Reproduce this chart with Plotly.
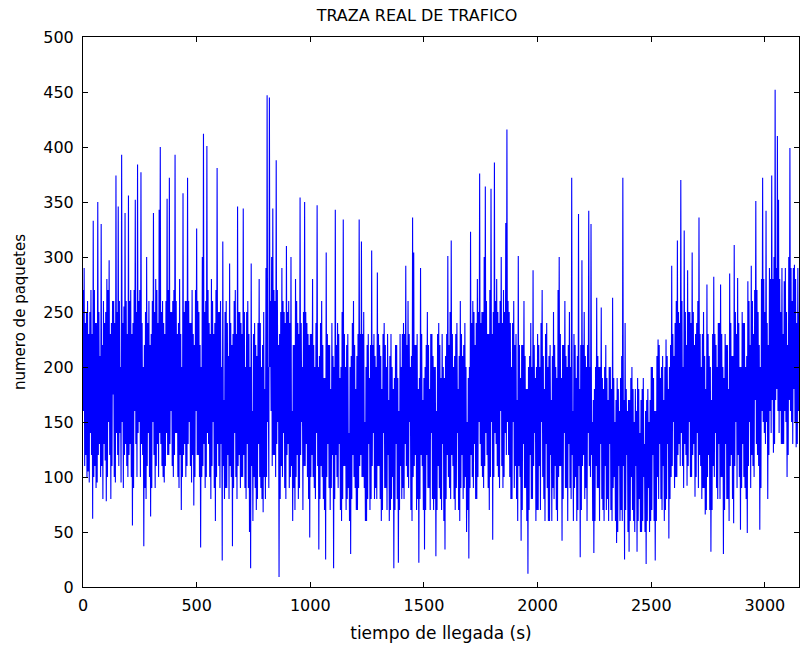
import plotly.graph_objects as go

# Two readings per 5 s window (values estimated from the figure), in blocks of 500 s.
# muestra_a: first reading, muestra_b: second reading of the same window.
muestra_a_0000 = [160,290,120,250,105,230,140,270,62,333,110,240,95,350,130,210,330,80,260,115,
                  78,280,150,297,80,240,175,260,95,374,120,346,140,200,393,90,255,340,110,230,
                  356,130,270,56,240,160,352,100,384,150,270,377,120,37,220,80,300,140,260,64,
                  230,150,340,90,280,130,240,343,400,110,260,95,230,140,353,120,372,160,250,100,
                  270,393,140,230,90,280,70,200,358,130,260,110,372,150,240,95,270,74,220,160]
muestra_b_0000 = [270,110,240,100,260,95,250,120,230,100,270,90,240,120,250,100,110,220,130,240,
                  250,100,270,120,230,110,260,100,240,140,250,110,260,95,150,240,120,130,260,100,
                  120,260,100,230,90,270,130,250,140,260,100,130,240,200,90,250,110,240,100,220,
                  90,260,120,250,110,270,100,140,130,250,100,240,110,260,120,270,130,250,110,260,
                  120,140,260,100,240,120,230,100,120,250,100,260,130,260,110,240,120,230,100,270]
muestra_a_0500 = [326,120,250,36,200,300,412,90,260,401,130,240,80,280,150,230,60,270,381,110,
                  250,130,24,314,170,90,260,120,210,294,100,37,230,140,270,80,346,120,250,100,
                  230,344,90,200,130,260,50,17,294,160,100,240,70,210,130,280,90,200,68,250,
                  180,290,447,200,445,160,300,344,120,260,388,150,9,230,110,290,140,250,80,310,
                  130,260,100,300,160,220,70,280,120,240,90,354,150,200,110,350,130,240,80,45]
muestra_b_0500 = [120,260,100,220,100,110,130,250,100,140,270,100,230,110,260,90,240,100,130,250,
                  90,260,200,110,80,250,90,240,80,110,240,220,90,260,100,230,110,250,90,240,
                  100,120,250,80,250,90,230,200,110,60,230,90,220,80,240,100,240,80,220,100,
                  80,100,150,90,200,260,110,120,270,100,130,270,220,80,250,100,260,90,240,120,
                  250,90,240,110,60,90,220,100,260,80,230,120,240,70,250,110,250,100,230,220]
muestra_a_1000 = [230,120,280,90,200,140,347,34,210,110,260,80,190,25,304,130,220,70,180,120,
                  17,200,343,100,240,130,190,60,250,334,110,200,80,230,140,30,210,120,260,90,
                  180,70,230,334,120,314,100,250,150,60,220,130,190,80,306,140,230,90,200,286,
                  110,220,60,180,140,240,90,200,120,170,70,230,100,17,190,130,220,22,160,110,
                  200,90,240,130,292,100,260,150,200,60,336,304,120,220,80,22,190,290,110,170]
muestra_b_1000 = [100,230,100,220,80,240,110,200,80,240,100,220,70,190,100,230,90,220,90,240,
                  210,80,120,220,90,230,70,200,80,110,230,70,220,90,60,200,80,240,100,220,
                  70,210,90,110,230,100,230,90,60,200,80,230,70,220,110,220,80,210,80,110,
                  230,80,210,70,230,90,220,70,230,60,210,80,200,180,70,220,80,190,70,230,
                  80,230,80,230,110,220,90,230,70,210,100,110,220,70,230,180,80,120,230,70]
muestra_a_1500 = [34,200,120,250,90,180,140,230,70,200,28,160,110,240,80,190,130,60,34,210,
                  120,301,90,250,315,110,200,70,230,140,180,60,260,120,210,90,240,50,150,26,
                  200,323,100,260,130,220,80,280,150,376,110,250,90,300,364,120,230,70,270,362,
                  43,250,386,130,280,100,240,160,300,90,270,140,331,416,120,250,80,200,150,260,
                  110,230,170,301,100,42,220,130,260,90,180,12,200,120,240,80,288,140,190,70]
muestra_b_1500 = [190,70,220,90,220,70,230,80,210,80,200,70,230,90,220,70,230,200,190,80,
                  230,100,220,80,120,230,80,210,90,240,70,210,90,230,80,220,100,200,70,190,
                  90,120,240,90,250,80,240,100,250,130,240,100,250,110,140,260,90,230,100,150,
                  230,100,140,260,110,250,90,260,110,240,100,250,120,150,260,100,240,80,240,90,
                  220,80,60,110,220,190,70,220,90,210,60,180,70,210,80,200,110,220,60,200]
muestra_a_2000 = [230,110,200,150,270,80,180,130,240,60,210,120,170,90,250,110,200,60,270,300,
                  110,42,220,140,260,90,200,130,250,80,372,160,230,100,190,70,339,27,220,297,
                  120,250,90,200,140,342,100,330,150,31,180,110,263,90,200,130,254,70,180,110,
                  220,80,170,130,200,60,263,100,150,40,190,110,160,70,210,372,25,240,120,160,
                  32,170,100,200,60,150,110,32,190,80,140,50,180,100,130,21,170,90,150,60]
muestra_b_2000 = [70,220,70,240,100,210,60,230,90,200,60,220,60,210,80,220,70,190,100,110,
                  230,190,80,220,90,210,60,220,90,200,120,60,90,220,60,210,110,180,70,110,
                  220,80,210,60,220,110,200,120,60,170,60,200,90,210,60,200,80,190,60,200,
                  70,190,60,200,70,180,90,190,60,170,50,180,60,190,60,110,170,70,180,50,
                  170,60,190,70,180,50,180,160,60,180,50,170,60,190,50,160,60,180,50,170]
muestra_a_2500 = [200,120,60,24,160,100,225,130,80,200,110,170,70,225,130,44,200,100,292,150,
                  210,100,260,315,130,240,370,110,200,324,120,92,288,150,250,100,304,130,82,230,
                  140,260,336,110,200,90,250,66,180,275,120,210,32,170,110,282,140,90,200,130,
                  240,275,100,30,190,130,220,80,180,285,120,210,58,311,150,230,281,100,52,200,
                  130,240,90,200,49,278,150,220,292,110,230,170,351,120,250,52,200,160,372,140]
muestra_b_2500 = [70,200,190,160,60,210,80,220,190,70,210,60,200,80,210,180,80,220,110,230,
                  90,240,100,120,250,110,140,260,90,130,250,220,110,250,100,240,120,250,220,100,
                  240,90,120,230,80,230,90,210,70,100,230,70,200,70,230,100,230,220,80,240,
                  80,100,230,200,70,230,80,220,60,110,240,80,210,110,250,90,120,240,200,90,
                  250,100,240,80,210,110,260,90,120,260,100,270,130,270,110,220,90,280,150,280]
muestra_a_3000 = [250,342,80,220,160,280,374,122,300,452,180,410,352,160,250,130,230,278,150,100,
                  220,170,399,150,260,180,293,127,240,160,250]
muestra_b_3000 = [130,150,240,120,290,140,170,280,130,170,290,160,140,280,130,290,130,160,290,250,
                  120,300,160,290,130,290,150,280,130,290,140]

muestra_a = (muestra_a_0000 + muestra_a_0500 + muestra_a_1000 + muestra_a_1500
             + muestra_a_2000 + muestra_a_2500 + muestra_a_3000)
muestra_b = (muestra_b_0000 + muestra_b_0500 + muestra_b_1000 + muestra_b_1500
             + muestra_b_2000 + muestra_b_2500 + muestra_b_3000)
ventana_s = 5

# Each window is drawn as its higher reading followed by its lower reading.
tiempo, paquetes = [], []
for i, (a, b) in enumerate(zip(muestra_a, muestra_b)):
    t0 = i * ventana_s
    tiempo += [t0, t0 + ventana_s / 2]
    paquetes += [max(a, b), min(a, b)]

x_ticks = [0, 500, 1000, 1500, 2000, 2500, 3000]
y_ticks = [0, 50, 100, 150, 200, 250, 300, 350, 400, 450, 500]

FONT = "DejaVu Sans"

fig = go.Figure()
fig.add_trace(go.Scatter(x=tiempo, y=paquetes, mode="lines",
                         line=dict(color="#0000FF", width=1.1, simplify=False),
                         showlegend=False, hoverinfo="skip"))

axis_common = dict(showline=True, linecolor="black", linewidth=1, mirror="ticks",
                   ticks="inside", ticklen=5, tickcolor="black", tickwidth=1,
                   showgrid=False, zeroline=False, automargin=False,
                   tickfont=dict(family=FONT, size=16, color="black"))

fig.update_xaxes(range=[0, 3150], tickvals=x_ticks,
                 ticktext=[str(v) for v in x_ticks], ticklabelstandoff=4,
                 title=dict(text="tiempo de llegada (s)",
                            font=dict(family=FONT, size=17, color="black"), standoff=12),
                 **axis_common)
fig.update_yaxes(range=[0, 500], tickvals=y_ticks,
                 ticktext=[str(v) for v in y_ticks], ticklabelstandoff=5,
                 title=dict(text="numero de paquetes",
                            font=dict(family=FONT, size=15, color="black"), standoff=14),
                 **axis_common)

fig.update_layout(
    width=800, height=646,
    margin=dict(l=83, r=1, t=37, b=59),
    paper_bgcolor="white", plot_bgcolor="white",
    title=dict(text="TRAZA REAL DE TRAFICO", x=(417 - 83) / 716, xref="paper",
               xanchor="center", y=1 - 15 / 646, yref="container", yanchor="middle",
               font=dict(family=FONT, size=16, color="black")),
)

# Remove the browser's default 8 px page margin so the figure fills the window.
fig.write_html("out.html",
               config={"displayModeBar": False},
               post_script="document.body.style.margin='0';"
                           "document.body.style.overflow='hidden';")
